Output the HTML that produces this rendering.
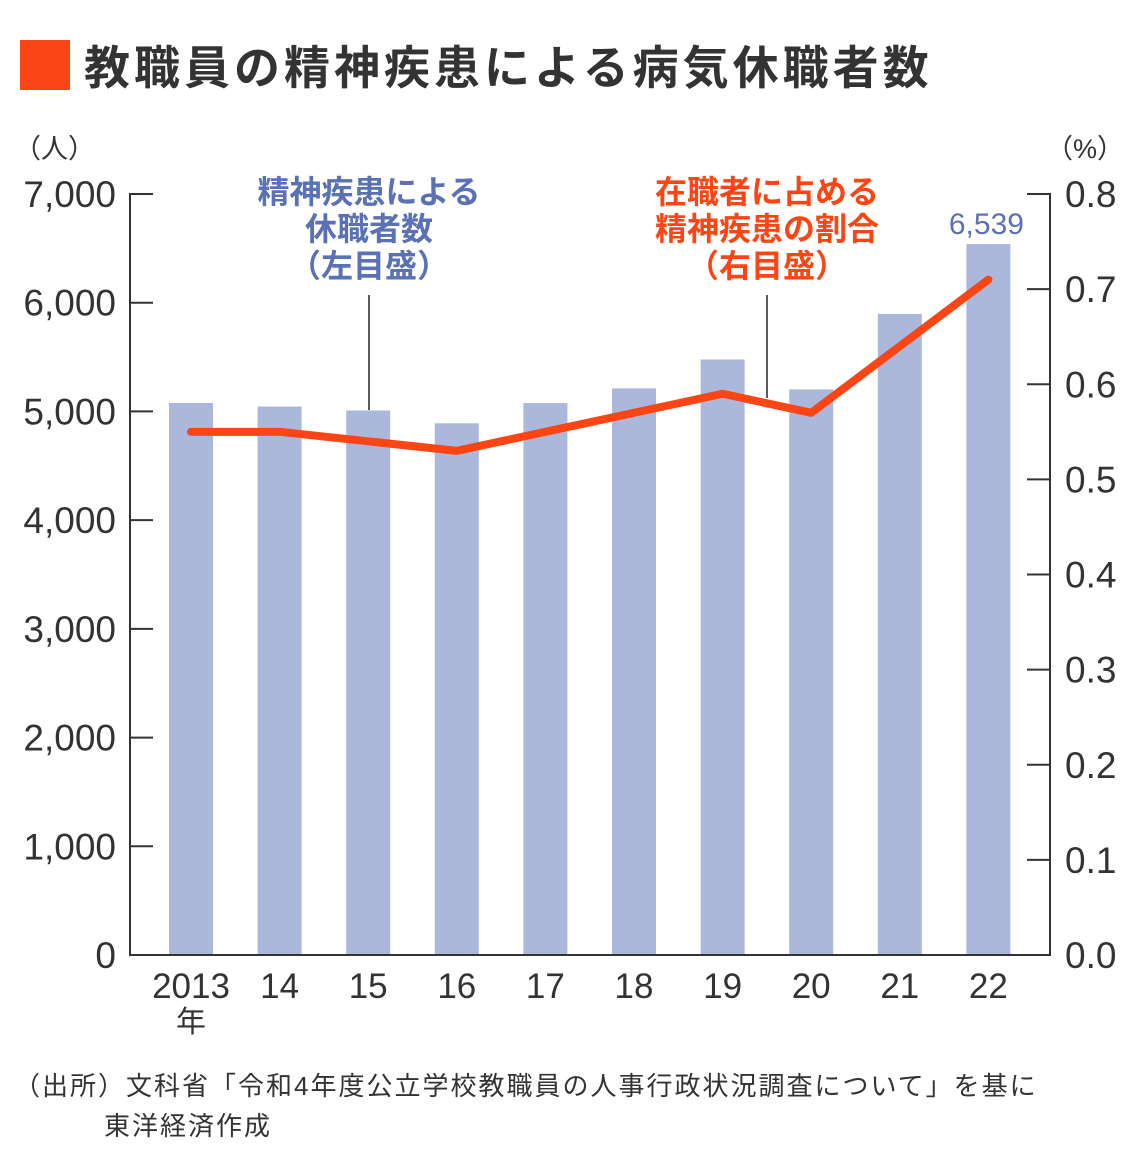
<!DOCTYPE html>
<html><head><meta charset="utf-8"><style>
body{margin:0;background:#fff;}
svg text{font-family:"Liberation Sans","Noto Sans CJK JP",sans-serif;}
</style></head><body>
<svg id="c" width="1140" height="1171" viewBox="0 0 1140 1171" xmlns="http://www.w3.org/2000/svg">
<rect x="20" y="40" width="50" height="50" fill="#fc4514"/>
<text x="84" y="84" font-size="46" font-weight="bold" fill="#333" letter-spacing="4">教職員の精神疾患による病気休職者数</text>
<text x="14" y="158" font-size="27" fill="#333">（人）</text>
<text x="1124" y="158" font-size="27" fill="#333" text-anchor="end">（%）</text>
<g id="bars"></g><g id="axes"></g><g id="line"></g>
<g fill="#5a72b5" font-size="32" font-weight="bold" text-anchor="middle">
<text x="369" y="203">精神疾患による</text><text x="369" y="240">休職者数</text><text x="369" y="277">（左目盛）</text></g>
<line x1="369" y1="295" x2="369" y2="410" stroke="#222" stroke-width="1.5"/>
<g fill="#fc4514" font-size="32" font-weight="bold" text-anchor="middle">
<text x="767" y="203">在職者に占める</text><text x="767" y="240">精神疾患の割合</text><text x="767" y="277">（右目盛）</text></g>
<line x1="767" y1="295" x2="767" y2="398" stroke="#222" stroke-width="1.5"/>
<text x="191" y="1032" font-size="30" fill="#333" text-anchor="middle">年</text>
<text x="14" y="1095" font-size="26" fill="#333" letter-spacing="2">（出所）文科省「令和4年度公立学校教職員の人事行政状況調査について」を基に</text>
<text x="104" y="1135" font-size="26" fill="#333" letter-spacing="2">東洋経済作成</text>
</svg>
<script>
const categories=["2013","14","15","16","17","18","19","20","21","22"];
const counts=[5078,5045,5009,4891,5077,5212,5478,5203,5897,6539];
const ratios=[0.55,0.55,0.54,0.53,0.55,0.57,0.59,0.57,0.64,0.71];
const leftTicks=[0,1000,2000,3000,4000,5000,6000,7000];
const leftTickLabels=["0","1,000","2,000","3,000","4,000","5,000","6,000","7,000"];
const rightTicks=[0,0.1,0.2,0.3,0.4,0.5,0.6,0.7,0.8];
const rightTickLabels=["0.0","0.1","0.2","0.3","0.4","0.5","0.6","0.7","0.8"];
const NS="http://www.w3.org/2000/svg";
const y0=955,yTop=194;
const yL=v=>y0-(v/7000)*(y0-yTop);
const yR=v=>y0-(v/0.8)*(y0-yTop);
const xC=i=>191+i*88.6;
function mk(t,a,p){const e=document.createElementNS(NS,t);for(const k in a)e.setAttribute(k,a[k]);p.appendChild(e);return e;}
const bars=document.getElementById('bars'),axes=document.getElementById('axes'),line=document.getElementById('line');
counts.forEach((v,i)=>{
 const r=mk('rect',{x:xC(i)-22,y:yL(v),width:44,height:y0-yL(v),fill:'#abb8dc'},bars);
 
 
 const t=mk('text',{x:xC(i),y:998,'font-size':35,fill:'#333','text-anchor':'middle'},axes);
 t.textContent=categories[i];
 
 
});
const last=counts.length-1;
const vl=mk('text',{x:xC(last)-2,y:yL(counts[last])-10,'font-size':30,fill:'#5a72b5','text-anchor':'middle'},bars);
vl.textContent=counts[last].toLocaleString('en-US');


const ax=mk('path',{d:`M153 ${yTop}H130V${y0}H1050V${yTop}H1027`,fill:'none',stroke:'#333','stroke-width':2},axes);


leftTicks.forEach((v,i)=>{
 if(v>0&&v<7000){const l=mk('line',{x1:130,x2:153,y1:yL(v),y2:yL(v),stroke:'#333','stroke-width':2},axes);
 
 }
 const t=mk('text',{x:116,y:yL(v)+13,'font-size':37,fill:'#333','text-anchor':'end'},axes);
 t.textContent=leftTickLabels[i];
 
 
});
rightTicks.forEach((v,i)=>{
 if(v>0&&v<0.8){const l=mk('line',{x1:1027,x2:1050,y1:yR(v),y2:yR(v),stroke:'#333','stroke-width':2},axes);
 
 }
 const t=mk('text',{x:1065,y:yR(v)+13,'font-size':37,fill:'#333'},axes);
 t.textContent=rightTickLabels[i];
 
 
});
const pl=mk('polyline',{points:ratios.map((v,i)=>xC(i)+','+yR(v)).join(' '),fill:'none',stroke:'#fc4514','stroke-width':8,'stroke-linejoin':'round','stroke-linecap':'round'},line);


</script>
</body></html>
